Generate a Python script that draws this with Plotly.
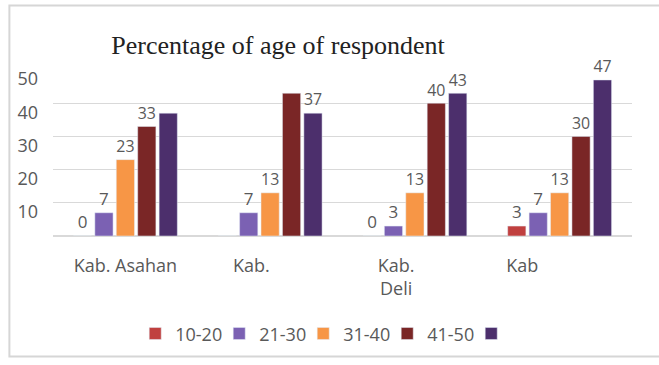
import plotly.graph_objects as go

NB = "\u00a0"
categories = ["Kab. Asahan", "Kab.", "Kab. Deli", "Kab"]
tick_labels = ["Kab. Asahan", "Kab." + NB * 8, "Kab." + NB * 8 + "<br>Deli" + NB * 8, "Kab" + NB * 16]
series_names = ["10-20", "21-30", "31-40", "41-50", ""]
v_10_20 = [0, 0, 0, 3]
v_21_30 = [7, 7, 3, 7]
v_31_40 = [23, 13, 13, 13]
v_41_50 = [33, 43, 40, 30]
v_51_60 = [37, 37, 43, 47]
# which bars carry a visible data label in the reference
show_10_20 = [True, False, True, True]
show_21_30 = [True, True, True, True]
show_31_40 = [True, True, True, True]
show_41_50 = [True, False, True, True]
show_51_60 = [False, True, True, True]

values = [v_10_20, v_21_30, v_31_40, v_41_50, v_51_60]
shows = [show_10_20, show_21_30, show_31_40, show_41_50, show_51_60]
colors = ["#c0403f", "#7b61b3", "#f79646", "#7a2626", "#4c2f6c"]

fig = go.Figure()
for name, vals, sh, col in zip(series_names, values, shows, colors):
    fig.add_trace(go.Bar(
        x=categories, y=vals, name=name, marker_color=col,
        text=[str(v) if s else "" for v, s in zip(vals, sh)],
        textposition="outside", cliponaxis=False,
        textfont=dict(family="Open Sans", size=17, color="#595959"),
    ))

fig.update_layout(
    width=659, height=365,
    margin=dict(l=53, r=27, t=70, b=127),
    paper_bgcolor="white", plot_bgcolor="white",
    barmode="group", bargap=0.26, bargroupgap=0.15,
    title=dict(text="Percentage of age of respondent", x=0.422, xanchor="center",
               y=0.877, yanchor="middle",
               font=dict(family="Liberation Serif", size=26, color="#222222")),
    font=dict(family="Open Sans", size=17, color="#595959"),
    showlegend=True,
    legend=dict(orientation="h", x=0.142, xanchor="left", y=-0.589, yanchor="middle",
                entrywidth=39, itemwidth=30, traceorder="normal",
                font=dict(family="Open Sans", size=18, color="#595959")),
)
fig.update_xaxes(tickvals=categories, ticktext=tick_labels, showline=False,
                 ticks="", ticklabelstandoff=17, tickfont=dict(size=18, color="#595959"))
fig.update_yaxes(range=[0, 50], tickvals=[10, 20, 30, 40, 50], showgrid=True,
                 gridcolor="#d9d9d9", gridwidth=1, zeroline=True, zerolinecolor="#d9d9d9",
                 ticks="", ticklabelstandoff=14, ticklabelshift=9,
                 tickfont=dict(size=18, color="#595959"))
fig.add_shape(type="rect", xref="paper", yref="paper", x0=-0.0753, x1=1.06, y0=-0.726, y1=1.388,
              line=dict(color="#d6d6d6", width=2), fillcolor="rgba(0,0,0,0)", layer="below")

fig.write_html("out.html")
